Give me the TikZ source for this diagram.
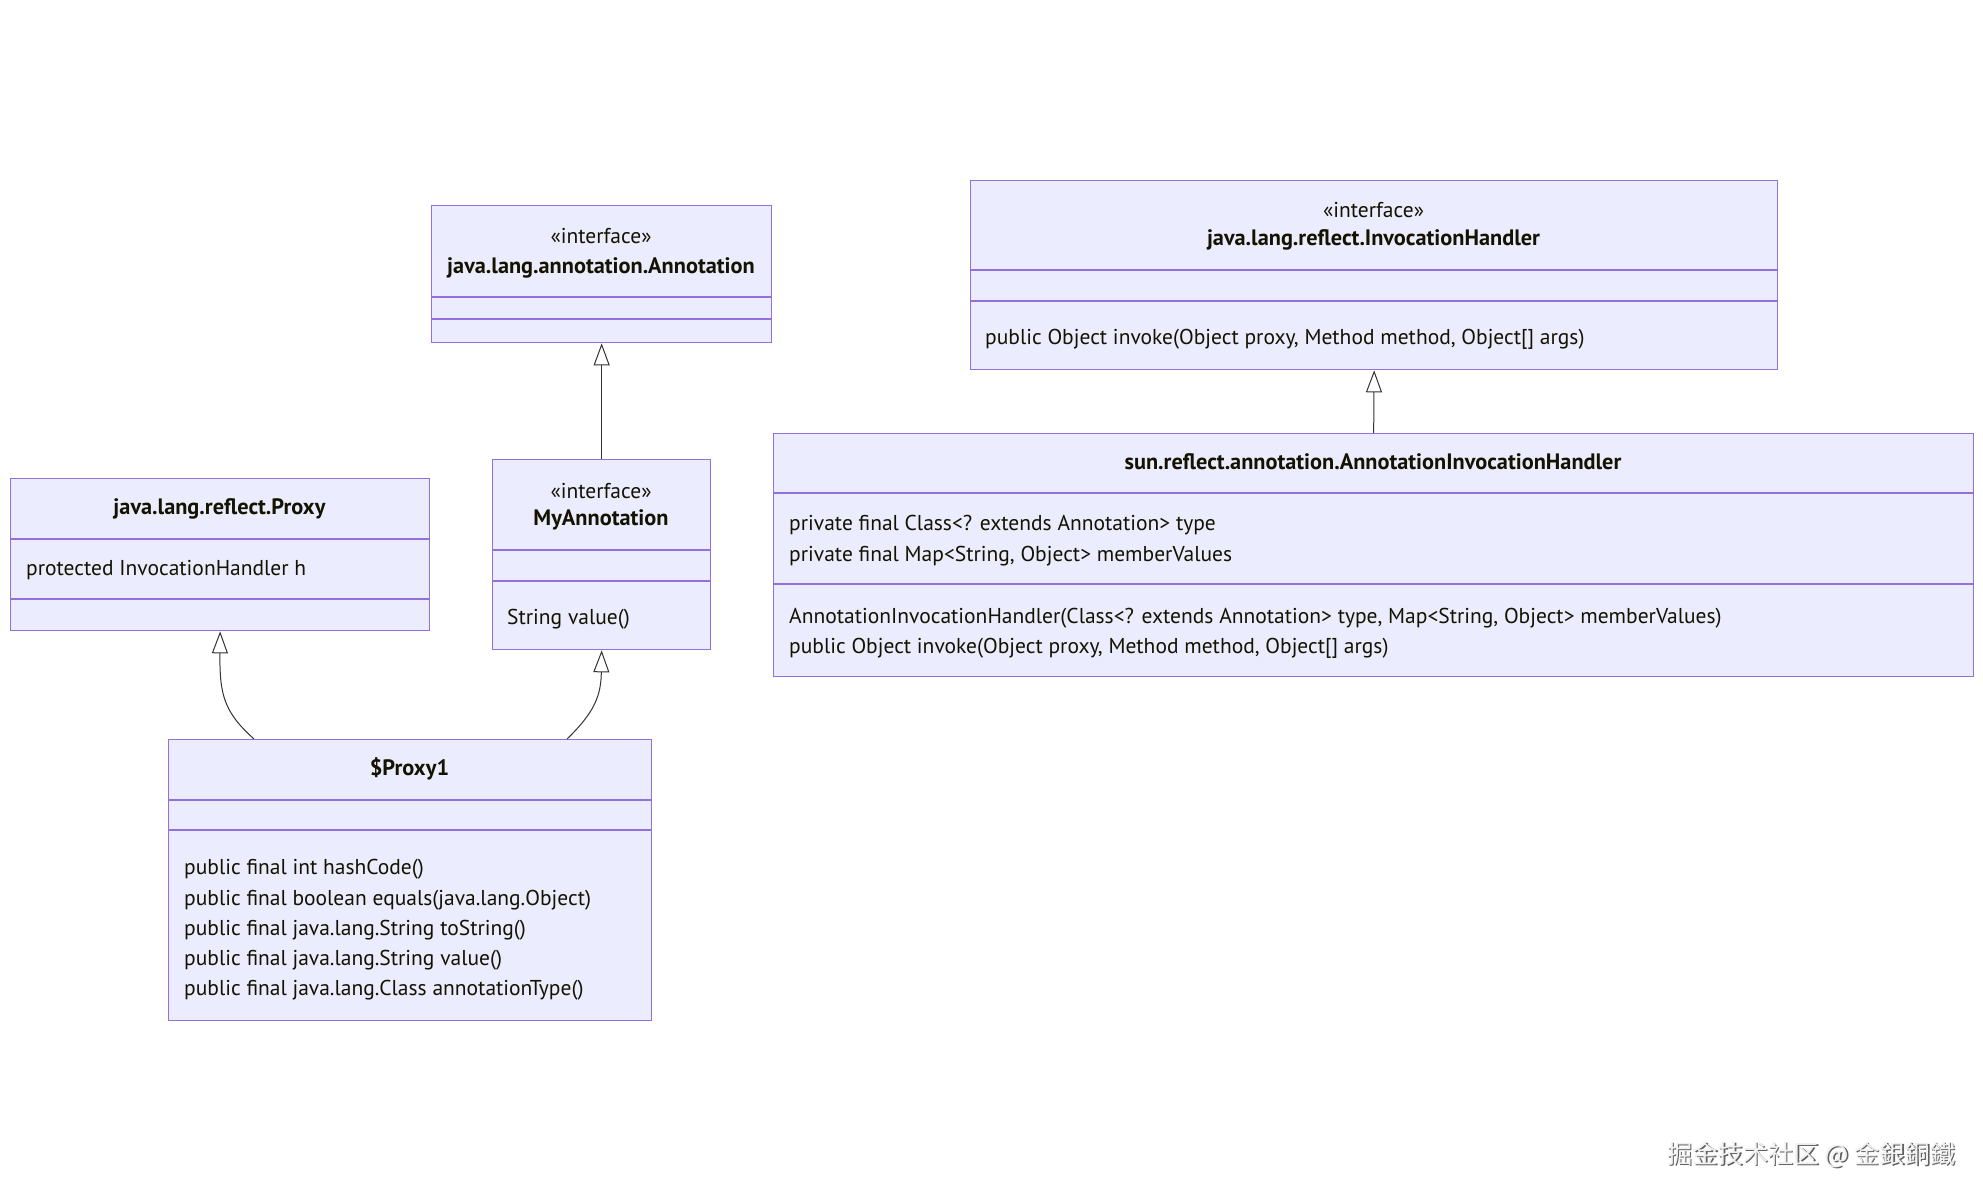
\documentclass[tikz,border=0pt]{standalone}
\usepackage{fontspec}
\setmainfont{PT Sans}
\newfontfamily\cjkfont{Noto Sans CJK SC}
\usetikzlibrary{arrows.meta}
\definecolor{boxfill}{HTML}{ECECFF}
\definecolor{boxline}{HTML}{9370DB}
\definecolor{txt}{HTML}{131300}
\definecolor{edge}{HTML}{333333}
\begin{document}
\begin{tikzpicture}[x=1pt,y=-1pt,
  classbox/.style={draw=boxline, fill=boxfill, line width=1.3pt, inner sep=0pt, anchor=north west},
  divider/.style={draw=boxline, line width=1.3pt},
  lbl/.style={text=txt, inner sep=0pt, yshift=-4pt, font=\fontsize{21.5}{24}\selectfont},
  title/.style={lbl, font=\fontsize{22.3}{24}\selectfont\bfseries, anchor=mid},
  stereo/.style={lbl, anchor=mid, yshift=-2pt},
  member/.style={lbl, anchor=mid west},
  inherit/.style={draw=edge, line width=1pt, -{Triangle[length=22pt,width=16pt,fill=white,line width=1pt]}}
]
\useasboundingbox (0,0) rectangle (1983,1200);

% java.lang.annotation.Annotation
\node[classbox, minimum width=340pt, minimum height=137pt] (ann) at (431,205) {};
\draw[divider] (431,297) -- (771,297);
\draw[divider] (431,319) -- (771,319);
\node[stereo] (annS) at (601,235) {«interface»};
\node[title] (annT) at (601,267) {java.lang.annotation.Annotation};

% java.lang.reflect.InvocationHandler
\node[classbox, minimum width=807pt, minimum height=189pt] (ih) at (970,180) {};
\draw[divider] (970,270) -- (1777,270);
\draw[divider] (970,301) -- (1777,301);
\node[stereo] (ihS) at (1373.5,209) {«interface»};
\node[title] (ihT) at (1373.5,239) {java.lang.reflect.InvocationHandler};
\node[member] (ihM) at (985,338) {public Object invoke(Object proxy, Method method, Object[] args)};

% java.lang.reflect.Proxy
\node[classbox, minimum width=419pt, minimum height=152pt] (proxy) at (10,478) {};
\draw[divider] (10,539) -- (429,539);
\draw[divider] (10,599) -- (429,599);
\node[title] (proxyT) at (219.5,508) {java.lang.reflect.Proxy};
\node[member] (proxyA) at (26,569) {protected InvocationHandler h};

% MyAnnotation
\node[classbox, minimum width=218pt, minimum height=190pt] (myann) at (492,459) {};
\draw[divider] (492,550) -- (710,550);
\draw[divider] (492,581) -- (710,581);
\node[stereo] (myannS) at (601,490) {«interface»};
\node[title] (myannT) at (601,519) {MyAnnotation};
\node[member] (myannM) at (507,618) {String value()};

% sun.reflect.annotation.AnnotationInvocationHandler
\node[classbox, minimum width=1200pt, minimum height=243pt] (aih) at (773,433) {};
\draw[divider] (773,493) -- (1973,493);
\draw[divider] (773,584) -- (1973,584);
\node[title] (aihT) at (1373,463) {sun.reflect.annotation.AnnotationInvocationHandler};
\node[member] (aihA1) at (789,524) {private final Class<? extends Annotation> type};
\node[member] (aihA2) at (789,555) {private final Map<String, Object> memberValues};
\node[member] (aihM1) at (789,617) {AnnotationInvocationHandler(Class<? extends Annotation> type, Map<String, Object> memberValues)};
\node[member] (aihM2) at (789,647) {public Object invoke(Object proxy, Method method, Object[] args)};

% $Proxy1
\node[classbox, minimum width=483pt, minimum height=281pt] (p1) at (168,739) {};
\draw[divider] (168,800) -- (651,800);
\draw[divider] (168,830) -- (651,830);
\node[title] (p1T) at (409.5,769) {\$Proxy1};
\node[member] (p1M1) at (184,868) {public final int hashCode()};
\node[member] (p1M2) at (184,899) {public final boolean equals(java.lang.Object)};
\node[member] (p1M3) at (184,929) {public final java.lang.String toString()};
\node[member] (p1M4) at (184,959) {public final java.lang.String value()};
\node[member] (p1M5) at (184,989) {public final java.lang.Class annotationType()};

% connectors
\coordinate (p1a) at (254,739);
\coordinate (p1b) at (567,739);
\draw[inherit] (myann.north) -- (ann.south);
\draw[inherit] (aih.north) -- (ih.south);
\draw[inherit] (p1a) .. controls (224,712) and (219.5,695) .. (proxy.south);
\draw[inherit] (p1b) .. controls (595,712) and (601,695) .. (myann.south);

% watermark
\node[font=\cjkfont\fontsize{25.3}{26}\selectfont, text=gray!75!black, anchor=mid west, inner sep=0pt] (wmS) at (1668.5,1162) {掘金技术社区 @ 金銀銅鐵};
\node[font=\cjkfont\fontsize{25.3}{26}\selectfont, text=gray!12, anchor=mid west, inner sep=0pt] (wm) at (1667,1160.5) {掘金技术社区 @ 金銀銅鐵};
\end{tikzpicture}
\end{document}
